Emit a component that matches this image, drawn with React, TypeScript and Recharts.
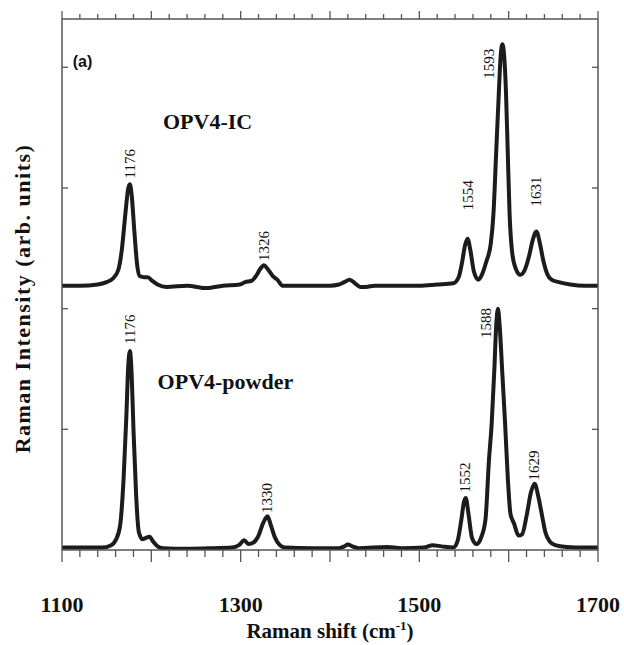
import React from 'react';
import { ComposedChart, Line, XAxis, YAxis, ReferenceDot } from 'recharts';

// OPV4-IC spectrum (raw, baseline ~0), shifted up by icOffset when drawn
const icShift = [
  1100, 1120, 1140, 1150, 1157, 1163, 1167, 1171, 1174, 1176, 1178, 1181, 1184, 1187, 1192, 1196, 1201, 1207, 1217,
  1240, 1262, 1280, 1299, 1305, 1312, 1318, 1322, 1326, 1330, 1336, 1341, 1347, 1370, 1400, 1410, 1416, 1422, 1428,
  1434, 1440, 1450, 1480, 1500, 1520, 1538, 1544, 1548, 1551, 1554, 1557, 1561, 1566, 1570, 1575, 1580, 1583, 1586,
  1589, 1591, 1593, 1595, 1597, 1599, 1601, 1604, 1608, 1613, 1618, 1623, 1627, 1631, 1635, 1639, 1643, 1648, 1656,
  1669, 1685, 1700,
];
const icIntensity = [
  0.0, 0.0, 0.01, 0.03, 0.06, 0.13, 0.3, 0.6, 0.8, 0.84, 0.75, 0.45, 0.18, 0.08, 0.07, 0.07, 0.04, 0.01, -0.01,
  0.0, -0.02, 0.0, 0.01, 0.03, 0.04, 0.09, 0.14, 0.17, 0.14, 0.08, 0.05, 0.0, 0.0, 0.0, 0.01, 0.03, 0.05, 0.02,
  -0.01, -0.01, 0.0, 0.0, 0.0, 0.01, 0.02, 0.07, 0.2, 0.33, 0.39, 0.3, 0.12, 0.05, 0.09, 0.2, 0.35, 0.6, 1.1,
  1.6, 1.9, 2.0, 1.9, 1.6, 1.1, 0.6, 0.27, 0.14, 0.09, 0.13, 0.25, 0.38, 0.45, 0.35, 0.2, 0.1, 0.05, 0.03,
  0.01, 0.0, 0.0,
];

// OPV4-powder spectrum
const powderShift = [
  1100, 1130, 1145, 1155, 1160, 1165, 1169, 1172, 1174, 1176, 1178, 1180, 1183, 1186, 1190, 1194, 1198, 1202, 1207,
  1213, 1240, 1270, 1290, 1298, 1304, 1309, 1314, 1320, 1325, 1330, 1334, 1338, 1344, 1350, 1380, 1410, 1416, 1420,
  1425, 1432, 1464, 1480, 1505, 1515, 1525, 1538, 1543, 1547, 1550, 1552, 1555, 1559, 1564, 1569, 1574, 1578, 1581,
  1584, 1586, 1588, 1590, 1593, 1596, 1599, 1602, 1606, 1611, 1615, 1620, 1625, 1629, 1633, 1637, 1641, 1646, 1652,
  1665, 1685, 1700,
];
const powderIntensity = [
  0.02, 0.02, 0.02, 0.04, 0.08, 0.2, 0.6, 1.1, 1.5, 1.65, 1.45, 1.0, 0.45, 0.15, 0.09, 0.1, 0.11, 0.07, 0.03,
  0.015, 0.01, 0.015, 0.02, 0.04, 0.08, 0.05, 0.06, 0.12, 0.22, 0.28, 0.2, 0.11, 0.04, 0.02, 0.015, 0.015, 0.03, 0.045,
  0.03, 0.015, 0.025, 0.015, 0.02, 0.04, 0.03, 0.02, 0.08, 0.25, 0.4, 0.43, 0.3, 0.1, 0.05, 0.1, 0.25, 0.75, 1.05,
  1.5, 1.85, 2.0, 1.85, 1.45, 1.05, 0.6, 0.3, 0.22, 0.12, 0.13, 0.28, 0.48, 0.55, 0.45, 0.3, 0.15, 0.07, 0.04,
  0.025, 0.02, 0.02,
];

const icOffset = 2.19;
const powderOffset = 0;

const xTicks = [
  1100, 1120, 1140, 1160, 1180, 1200, 1220, 1240, 1260, 1280, 1300, 1320, 1340, 1360, 1380, 1400,
  1420, 1440, 1460, 1480, 1500, 1520, 1540, 1560, 1580, 1600, 1620, 1640, 1660, 1680, 1700,
];
const xLabels = [1100, 1300, 1500, 1700];
const yTicks = [1, 2, 3, 4];

const peakLabels = [
  { text: '1176', x: 1176, y: 3.2 },
  { text: '1326', x: 1326, y: 2.52 },
  { text: '1554', x: 1554, y: 2.94 },
  { text: '1593', x: 1578, y: 4.03 },
  { text: '1631', x: 1631, y: 2.97 },
  { text: '1176', x: 1176, y: 1.83 },
  { text: '1330', x: 1330, y: 0.43 },
  { text: '1552', x: 1551, y: 0.6 },
  { text: '1588', x: 1575, y: 1.88 },
  { text: '1629', x: 1628, y: 0.7 },
];
const sampleNames = [
  { text: 'OPV4-IC', x: 1213, y: 3.55 },
  { text: 'OPV4-powder', x: 1207, y: 1.4 },
];

const icData = icShift.map((x, i) => ({ x, y: icIntensity[i] + icOffset }));
const powderData = powderShift.map((x, i) => ({ x, y: powderIntensity[i] + powderOffset }));

const AXIS = '#555';
const SERIF = '"Liberation Serif", "Times New Roman", serif';

const BottomTick = ({ x, y, payload }: any) => {
  const v = payload.value;
  const major = v % 100 === 0;
  return (
    <g>
      <line x1={x} x2={x} y1={y} y2={y + (major ? 12 : 7)} stroke={AXIS} strokeWidth={1.3} />
      {xLabels.includes(v) && (
        <text x={x} y={y + 62} textAnchor="middle" fontFamily={SERIF} fontWeight="bold" fontSize={22} fill="#111">
          {v}
        </text>
      )}
    </g>
  );
};

const TopTick = ({ x, y, payload }: any) => {
  const major = payload.value % 100 === 0;
  return <line x1={x} x2={x} y1={y} y2={y - (major ? 8 : 5)} stroke={AXIS} strokeWidth={1.3} />;
};

const LeftTick = ({ x, y }: any) => <line x1={x} x2={x + 6} y1={y} y2={y} stroke={AXIS} strokeWidth={1.3} />;
const RightTick = ({ x, y }: any) => <line x1={x} x2={x - 6} y1={y} y2={y} stroke={AXIS} strokeWidth={1.3} />;

const XTitle = ({ viewBox }: any) => (
  <text
    x={viewBox.x + viewBox.width / 2}
    y={viewBox.y + 88}
    textAnchor="middle"
    fontFamily={SERIF}
    fontWeight="bold"
    fontSize={21}
    fill="#111"
  >
    Raman shift (cm
    <tspan dy={-8} fontSize={13}>-1</tspan>
    <tspan dy={8}>)</tspan>
  </text>
);

const YTitle = ({ viewBox }: any) => {
  const cx = 22;
  const cy = viewBox.y + viewBox.height / 2 + 14;
  return (
    <text
      x={cx}
      y={cy}
      transform={`rotate(-90 ${cx} ${cy})`}
      textAnchor="middle"
      dominantBaseline="central"
      fontFamily={SERIF}
      fontWeight="bold"
      fontSize={22}
      letterSpacing={1.5}
      fill="#111"
    >
      Raman Intensity (arb. units)
    </text>
  );
};

export default function App() {
  return (
    <div style={{ position: 'absolute', left: 0, top: 0, width: 624, height: 645, background: '#fff' }}>
      <ComposedChart width={624} height={645} margin={{ top: 18, right: 25, bottom: 94, left: 61 }}>
        <XAxis
          xAxisId="b"
          type="number"
          dataKey="x"
          domain={[1100, 1700]}
          allowDataOverflow
          ticks={xTicks}
          interval={0}
          height={1}
          tickSize={0}
          tickMargin={0}
          tickLine={false}
          tick={(p: any) => <BottomTick {...p} />}
          axisLine={{ stroke: AXIS, strokeWidth: 1.5 }}
          label={{ content: (p: any) => <XTitle {...p} /> }}
        />
        <XAxis
          xAxisId="t"
          orientation="top"
          type="number"
          dataKey="x"
          domain={[1100, 1700]}
          allowDataOverflow
          ticks={xTicks}
          interval={0}
          height={1}
          tickSize={0}
          tickMargin={0}
          tickLine={false}
          tick={(p: any) => <TopTick {...p} />}
          axisLine={{ stroke: AXIS, strokeWidth: 1.5 }}
        />
        <YAxis
          yAxisId="l"
          type="number"
          domain={[0, 4.4]}
          allowDataOverflow
          ticks={yTicks}
          width={1}
          tickSize={0}
          tickMargin={0}
          tickLine={false}
          tick={(p: any) => <LeftTick {...p} />}
          axisLine={{ stroke: AXIS, strokeWidth: 1.5 }}
          label={{ content: (p: any) => <YTitle {...p} /> }}
        />
        <YAxis
          yAxisId="r"
          orientation="right"
          type="number"
          domain={[0, 4.4]}
          allowDataOverflow
          ticks={yTicks}
          width={1}
          tickSize={0}
          tickMargin={0}
          tickLine={false}
          tick={(p: any) => <RightTick {...p} />}
          axisLine={{ stroke: AXIS, strokeWidth: 1.5 }}
        />
        <Line
          xAxisId="b"
          yAxisId="l"
          data={icData}
          dataKey="y"
          type="monotone"
          stroke="#1c1c1c"
          strokeWidth={4}
          strokeLinejoin="round"
          dot={false}
          activeDot={false}
          isAnimationActive={false}
        />
        <Line
          xAxisId="b"
          yAxisId="l"
          data={powderData}
          dataKey="y"
          type="monotone"
          stroke="#1c1c1c"
          strokeWidth={4}
          strokeLinejoin="round"
          dot={false}
          activeDot={false}
          isAnimationActive={false}
        />
        {peakLabels.map((d, i) => (
          <ReferenceDot
            key={'p' + i}
            xAxisId="b"
            yAxisId="l"
            x={d.x}
            y={d.y}
            r={0}
            shape={(p: any) => (
              <text
                x={p.cx}
                y={p.cy}
                transform={`rotate(-90 ${p.cx} ${p.cy})`}
                textAnchor="middle"
                dominantBaseline="central"
                fontFamily={SERIF}
                fontSize={15}
                fill="#111"
              >
                {d.text}
              </text>
            )}
          />
        ))}
        {sampleNames.map((d, i) => (
          <ReferenceDot
            key={'n' + i}
            xAxisId="b"
            yAxisId="l"
            x={d.x}
            y={d.y}
            r={0}
            shape={(p: any) => (
              <text
                x={p.cx}
                y={p.cy}
                dominantBaseline="central"
                fontFamily={SERIF}
                fontWeight="bold"
                fontSize={22}
                fill="#111"
              >
                {d.text}
              </text>
            )}
          />
        ))}
        <ReferenceDot
          xAxisId="b"
          yAxisId="l"
          x={1112}
          y={4.05}
          r={0}
          shape={(p: any) => (
            <text
              x={p.cx}
              y={p.cy}
              dominantBaseline="central"
              fontFamily='"Liberation Sans", Arial, sans-serif'
              fontWeight="bold"
              fontSize={16}
              fill="#111"
            >
              (a)
            </text>
          )}
        />
      </ComposedChart>
    </div>
  );
}
